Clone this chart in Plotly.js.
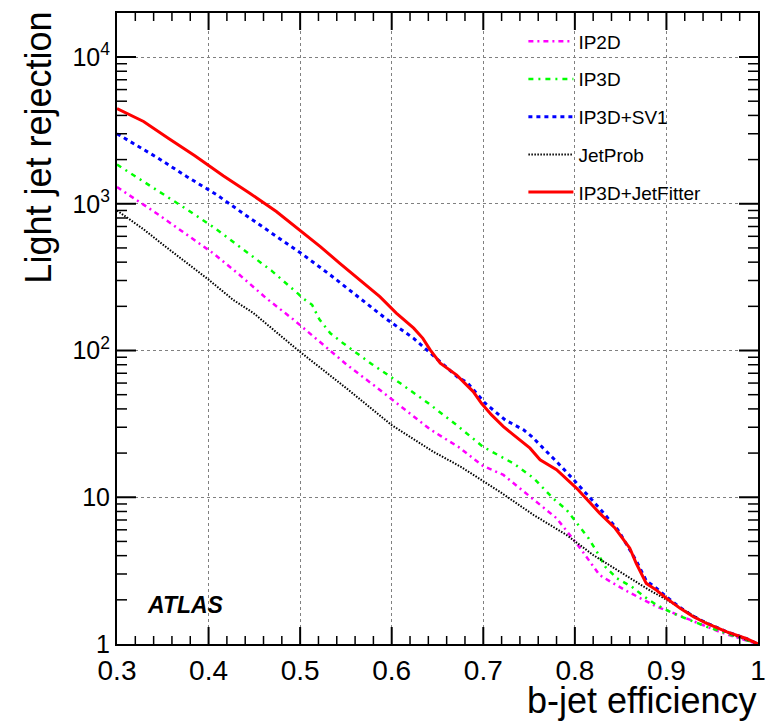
<!DOCTYPE html>
<html>
<head>
<meta charset="utf-8">
<script src="https://cdn.plot.ly/plotly-3.0.1.min.js"></script>
<style>html,body{margin:0;padding:0;background:#fff;}#chart{width:769px;height:721px;}</style>
</head>
<body>
<div id="chart"></div>
<script>
// ---- data ----
var ip2dEff = [0.30,0.343,0.374,0.405,0.434,0.463,0.493,0.52,0.551,0.582,0.611,0.642,0.673,0.70,0.722,0.751,0.78,0.804,0.815,0.827,0.842,0.858,0.875,0.889,0.904,0.922,0.94,0.958,0.98,1.0];
var ip2dRej = [1300,863,630,460,327,227,162,116,80,57,41,29,22,16.3,14.2,10.1,7.2,4.66,3.74,2.95,2.59,2.27,2.0,1.8,1.66,1.5,1.35,1.21,1.09,1.0];

var ip3dEff = [0.30,0.345,0.376,0.407,0.438,0.469,0.498,0.503,0.513,0.521,0.533,0.547,0.578,0.609,0.64,0.671,0.70,0.716,0.733,0.755,0.776,0.791,0.802,0.815,0.824,0.833,0.846,0.862,0.876,0.889,0.907,0.926,0.944,0.966,0.987,1.0];
var ip3dRej = [1850,1230,918,682,490,349,243,227,205,163,131,112,81,60,43.7,31,22,19.4,17,13.5,9.85,8.2,6.65,5.25,4.26,3.37,2.8,2.46,2.1,1.85,1.62,1.46,1.31,1.18,1.06,1.0];

var sv1Eff = [0.30,0.345,0.376,0.409,0.44,0.473,0.502,0.533,0.563,0.593,0.624,0.638,0.653,0.673,0.682,0.702,0.724,0.744,0.753,0.782,0.802,0.827,0.847,0.862,0.867,0.878,0.889,0.90,0.915,0.929,0.944,0.966,0.987,1.0];
var sv1Rej = [3000,2045,1535,1150,840,604,455,327,233,166,121,101,84,65,61,43.7,33.6,28.8,25.9,17,12.5,8.4,6.0,4.15,3.7,2.7,2.4,2.1,1.77,1.55,1.39,1.21,1.09,1.0];

var jpEff = [0.30,0.329,0.352,0.40,0.427,0.449,0.498,0.551,0.60,0.645,0.675,0.70,0.718,0.755,0.791,0.82,0.849,0.878,0.907,0.937,0.973,0.991,1.0];
var jpRej = [900,670,516,304,221,180,100,55,31,20.5,16.2,12.8,10.9,7.57,5.53,4.04,3.11,2.4,1.89,1.46,1.15,1.04,1.0];

var jfEff = [0.30,0.329,0.356,0.385,0.416,0.445,0.474,0.503,0.522,0.543,0.565,0.587,0.605,0.624,0.634,0.642,0.653,0.671,0.689,0.698,0.709,0.722,0.733,0.751,0.762,0.78,0.802,0.827,0.844,0.86,0.867,0.878,0.889,0.90,0.915,0.929,0.944,0.966,0.987,1.0];
var jfRej = [4450,3637,2800,2122,1550,1181,885,636,511,394,303,233,180,142,121,101,82,68,52.5,43.7,36.4,30.3,26.6,21.6,18,15.4,11.5,7.8,6.15,4.5,3.55,2.59,2.33,2.05,1.75,1.54,1.38,1.21,1.09,1.0];

var seriesNames = ['IP2D','IP3D','IP3D+SV1','JetProb','IP3D+JetFitter'];

var xTickVals = [0.3,0.4,0.5,0.6,0.7,0.8,0.9,1.0];
var xTickText = ['0.3','0.4','0.5','0.6','0.7','0.8','0.9','1'];
var yTickVals = [1,10,100,1000,10000];
var yTickText = ['1','10','10<sup>2</sup>','10<sup>3</sup>','10<sup>4</sup>'];

var xTitle = 'b-jet efficiency';
var yTitle = 'Light jet rejection';
var atlasLabel = 'ATLAS';

// ---- traces ----
function tr(x, y, name, color, dash, width, grp) {
  return {x:x, y:y, name:name, type:'scatter', mode:'lines', legendgroup:grp,
          line:{color:color, dash:dash, width:width}};
}
var data = [
  tr(ip2dEff, ip2dRej, seriesNames[0], '#ff00ff', '5px,4px,2px,4px', 2.5, 'a'),
  tr(ip3dEff, ip3dRej, seriesNames[1], '#00ff00', '5px,5px,2px,5px', 2.5, 'b'),
  tr(sv1Eff, sv1Rej, seriesNames[2], '#0000ff', '4px,4px', 3, 'c'),
  tr(jpEff, jpRej, seriesNames[3], '#000000', '1.5px,1.5px', 2, 'd'),
  tr(jfEff, jfRej, seriesNames[4], '#ff0000', 'solid', 3, 'e')
];

var fontFam = 'Liberation Sans, Arial, Helvetica, sans-serif';
var M = {l:117, r:11, t:13, b:77}, W = 769, H = 721;
var plotW = W - M.l - M.r, plotH = H - M.t - M.b;
var xMin = 0.3, xMax = 1.0, yMaxLog = 4.3;

// ---- frame tick marks on all four sides, built from the tick values ----
function tickTrace(width) {
  return {x:[], y:[], type:'scatter', mode:'lines', showlegend:false, hoverinfo:'skip',
          line:{color:'black', width:width}, cliponaxis:false};
}
var majTicks = tickTrace(2), minTicks = tickTrace(1.5);
function addX(t, v, len) {
  var dl = len / plotH * yMaxLog;
  t.x.push(v, v, null, v, v, null);
  t.y.push(1, Math.pow(10, dl), null, Math.pow(10, yMaxLog - dl), Math.pow(10, yMaxLog), null);
}
function addY(t, v, len) {
  var dx = len / plotW * (xMax - xMin);
  t.x.push(xMin, xMin + dx, null, xMax - dx, xMax, null);
  t.y.push(v, v, null, v, v, null);
}
for (var k = 1; k < 35; k++) {
  var v = Math.round((xMin + k * 0.02) * 100) / 100;
  var isMajor = Math.abs(v * 10 - Math.round(v * 10)) < 1e-6;
  if (isMajor) addX(majTicks, v, 17); else addX(minTicks, v, 8);
}
for (var d = 0; d <= 4; d++) {
  if (d > 0) addY(majTicks, Math.pow(10, d), 19);
  for (var m = 2; m <= 9; m++) {
    var yv = m * Math.pow(10, d);
    if (Math.log10(yv) < yMaxLog) addY(minTicks, yv, 10);
  }
}
data.push(majTicks, minTicks);

var layout = {
  width:W, height:H,
  margin:M,
  showlegend:true,
  legend:{x:0.634, y:0.985, xanchor:'left', yanchor:'top', bgcolor:'rgba(0,0,0,0)',
          borderwidth:0, font:{size:19, family:fontFam, color:'black'},
          traceorder:'grouped', tracegroupgap:10, itemwidth:45},
  xaxis:{
    range:[xMin,xMax], tickmode:'array', tickvals:xTickVals, ticktext:xTickText,
    ticks:'', showline:true, linecolor:'black', linewidth:2, mirror:true,
    showgrid:true, gridcolor:'#808080', griddash:'dot', gridwidth:1, zeroline:false,
    tickfont:{size:28, family:fontFam, color:'black'}
  },
  yaxis:{
    type:'log', range:[0,yMaxLog], tickmode:'array', tickvals:yTickVals, ticktext:yTickText,
    ticks:'', showline:true, linecolor:'black', linewidth:2, mirror:true,
    showgrid:true, gridcolor:'#808080', griddash:'dot', gridwidth:1, zeroline:false,
    tickfont:{size:25, family:fontFam, color:'black'}
  },
  annotations:[
    {text:xTitle, xref:'paper', yref:'paper', x:1.0, y:-0.089, xanchor:'right', yanchor:'middle',
     showarrow:false, font:{size:36, family:fontFam, color:'black'}},
    {text:yTitle, xref:'paper', yref:'paper', x:-0.122, y:1.005, xanchor:'center', yanchor:'top',
     textangle:-90, showarrow:false, font:{size:36, family:fontFam, color:'black'}},
    {text:'<b><i>'+atlasLabel+'</i></b>', xref:'paper', yref:'paper', x:0.043, y:0.062,
     xanchor:'left', yanchor:'middle', showarrow:false, font:{size:23, family:fontFam, color:'black'}}
  ]
};

Plotly.newPlot('chart', data, layout, {displayModeBar:false, staticPlot:true});
</script>
</body>
</html>
